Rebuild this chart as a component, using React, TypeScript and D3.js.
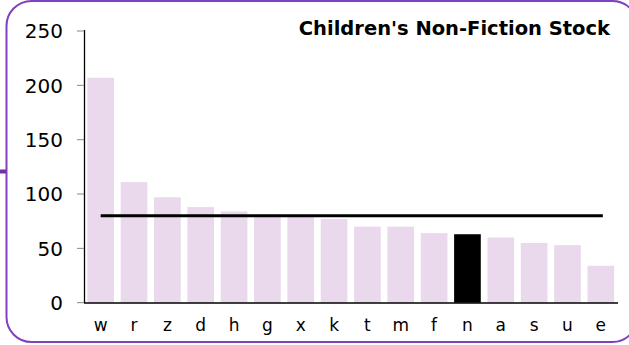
import React from "react";
import * as d3 from "d3";

const categories = ["w","r","z","d","h","g","x","k","t","m","f","n","a","s","u","e"];
const values = [207,111,97,88,84,81,80,77,70,70,64,63,60,55,53,34];
const highlight = "n";
const referenceValue = 80;
const yTicks = [0,50,100,150,200,250];
const title = "Children's Non-Fiction Stock";

const W = 629, H = 345;
const FONT = "'DejaVu Sans', Verdana, sans-serif";

export default function App() {
  const x = d3.scaleBand<string>().domain(categories).range([84, 617.5]).paddingInner(0.2).paddingOuter(0.1);
  const y = d3.scaleLinear().domain([0, 250]).range([302.7, 31]);
  const bw = x.bandwidth();
  const x0 = (x(categories[0]) ?? 0) + bw / 2;
  const x1 = (x(categories[categories.length - 1]) ?? 0) + bw / 2 + 2;
  return (
    <svg width={W} height={H} style={{ position: "absolute", left: 0, top: 0, background: "#fff" }}>
      <rect x={6.5} y={1} width={631} height={341} rx={25} ry={25} fill="#fff" stroke="#8040bf" strokeWidth={2} />
      <line x1={0} x2={6} y1={171.5} y2={171.5} stroke="#7030a8" strokeWidth={4} />
      {categories.map((c, i) => (
        <rect key={c} x={x(c)} y={y(values[i])} width={bw} height={y(0) - y(values[i])}
          fill={c === highlight ? "#000" : "#ead9ec"} />
      ))}
      <line x1={x0} x2={x1} y1={y(referenceValue)} y2={y(referenceValue)} stroke="#000" strokeWidth={3} />
      <line x1={84.5} x2={84.5} y1={30} y2={303} stroke="#000" strokeWidth={1.3} />
      <line x1={84} x2={618} y1={303} y2={303} stroke="#000" strokeWidth={1.3} />
      {yTicks.map(t => (
        <g key={t}>
          <line x1={77} x2={84} y1={y(t)} y2={y(t)} stroke="#888" strokeWidth={1} />
          <text x={63} y={y(t)} dy="0.36em" textAnchor="end" fontFamily={FONT} fontSize={20} fill="#000">{t}</text>
        </g>
      ))}
      {categories.map(c => (
        <text key={c} x={(x(c) ?? 0) + bw / 2} y={331} textAnchor="middle" fontFamily={FONT} fontSize={17} fill="#000">{c}</text>
      ))}
      <text x={610} y={35} textAnchor="end" fontFamily={FONT} fontSize={19.5} fontWeight="bold" fill="#000">{title}</text>
    </svg>
  );
}
